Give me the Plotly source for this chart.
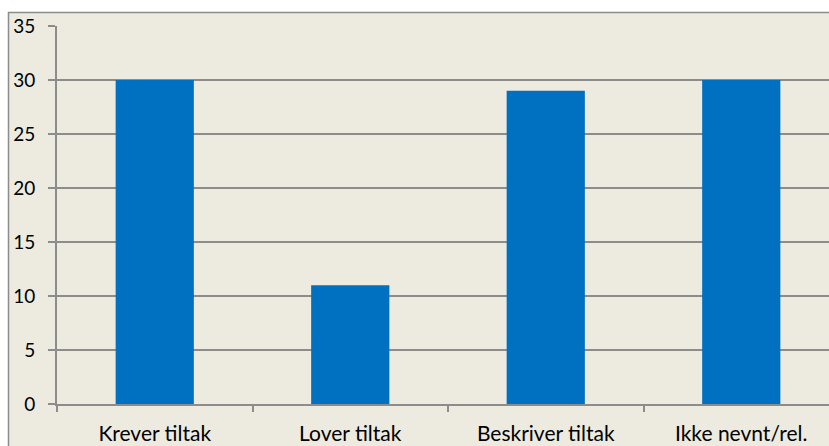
import plotly.graph_objects as go

categories = ["Krever tiltak", "Lover tiltak", "Beskriver tiltak", "Ikke nevnt/rel."]
values = [30, 11, 29, 30]
y_ticks = [0, 5, 10, 15, 20, 25, 30, 35]

W, H = 829, 446
L, T, B = 57, 26, 404  # plot area pixel edges
pw, ph = W - L, B - T
cat_w = 195.5

def px(x):
    return (x - L) / pw

def py(y):
    return (B - y) / ph

BG = "#EDEAE0"
GRID = "#8C8C8C"
FONT = "Lato"

fig = go.Figure(go.Bar(x=categories, y=values, marker=dict(color="#0070C0", line=dict(width=0))))

fig.add_shape(type="rect", xref="paper", yref="paper",
              x0=px(8.5), x1=px(845), y0=py(470), y1=py(12.5),
              fillcolor=BG, line=dict(color=GRID, width=1.5), layer="below")

fig.update_layout(
    width=W, height=H,
    margin=dict(l=L, r=0, t=T, b=H - B),
    paper_bgcolor="white",
    plot_bgcolor="rgba(0,0,0,0)",
    bargap=0.6,
    showlegend=False,
    font=dict(family=FONT, size=19, color="black"),
)
fig.update_xaxes(
    type="category",
    range=[-0.5, -0.5 + pw / cat_w],
    showline=True, linecolor=GRID, linewidth=2,
    showgrid=False,
    tickson="boundaries", ticks="outside", ticklen=6, tickcolor=GRID, tickwidth=2,
    ticklabelstandoff=10,
    tickfont=dict(family=FONT, size=21, color="black"),
)
fig.update_yaxes(
    range=[0, 35],
    tickvals=y_ticks,
    showline=True, linecolor=GRID, linewidth=2,
    showgrid=True, gridcolor=GRID, gridwidth=2,
    ticks="outside", ticklen=7, tickcolor=GRID, tickwidth=2,
    ticklabelstandoff=9,
    zeroline=False,
    tickfont=dict(family=FONT, size=19, color="black"),
)

fig.write_html(
    "out.html",
    config={"displayModeBar": False},
    post_script="document.documentElement.style.overflow='hidden';document.body.style.margin='0';",
)
